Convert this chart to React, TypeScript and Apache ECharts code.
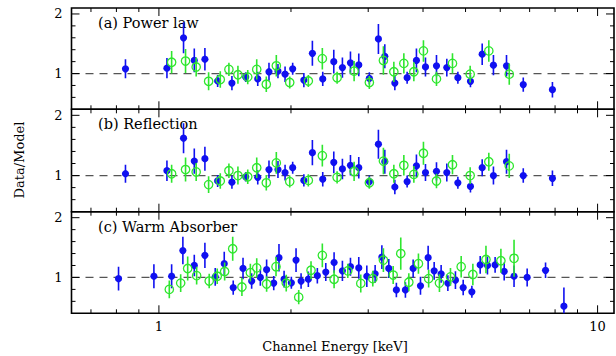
import React, { useEffect, useRef } from "react";
import * as echarts from "echarts";

// ---- Data (ratios) ----
const blueEnergyAB = [0.839, 1.043, 1.138, 1.204, 1.273, 1.361, 1.467, 1.577, 1.68, 1.782, 1.868, 1.939, 2.018, 2.14, 2.238, 2.363, 2.504, 2.62, 2.733, 2.855, 3.018, 3.165, 3.273, 3.45, 3.68, 3.864, 4.052, 4.293, 4.532, 4.803, 5.131, 5.457, 5.789, 6.2, 6.77, 7.89];
const blueRatioA = [1.08, 1.09, 1.6, 1.22, 1.24, 0.875, 0.84, 0.94, 0.91, 1.03, 1.04, 0.99, 1.08, 0.89, 1.34, 0.91, 1.2, 1.1, 1.18, 1.145, 0.92, 1.58, 1.29, 0.84, 0.93, 1.22, 1.11, 1.13, 1.1, 0.93, 0.87, 1.325, 1.14, 1.13, 0.815, 0.73];
const blueErrA = [0.16, 0.17, 0.26, 0.2, 0.19, 0.1, 0.12, 0.08, 0.12, 0.15, 0.12, 0.13, 0.1, 0.12, 0.21, 0.12, 0.2, 0.17, 0.19, 0.19, 0.1, 0.25, 0.2, 0.12, 0.1, 0.2, 0.16, 0.18, 0.15, 0.1, 0.1, 0.18, 0.17, 0.18, 0.12, 0.13];
const blueRatioB = [1.03, 1.08, 1.62, 1.24, 1.28, 0.91, 0.89, 0.98, 0.97, 1.1, 1.1, 1.05, 1.13, 0.92, 1.38, 0.94, 1.22, 1.11, 1.17, 1.13, 0.9, 1.52, 1.23, 0.81, 0.9, 1.16, 1.05, 1.07, 1.05, 0.88, 0.82, 1.13, 1.0, 1.23, 1.0, 0.955];
const blueErrB = [0.15, 0.17, 0.25, 0.21, 0.2, 0.1, 0.11, 0.08, 0.12, 0.15, 0.14, 0.13, 0.1, 0.1, 0.21, 0.12, 0.18, 0.17, 0.17, 0.18, 0.1, 0.24, 0.2, 0.12, 0.1, 0.19, 0.14, 0.15, 0.15, 0.1, 0.1, 0.14, 0.15, 0.2, 0.12, 0.13];

const greenEnergyAB = [1.069, 1.15, 1.216, 1.298, 1.38, 1.444, 1.514, 1.594, 1.671, 1.757, 1.852, 1.987, 2.191, 2.358, 2.548, 2.786, 3.018, 3.249, 3.432, 3.617, 3.812, 4.009, 4.293, 4.669, 5.123, 5.65, 6.29];
const greenRatioA = [1.19, 1.21, 1.11, 0.87, 0.9, 1.07, 0.98, 0.94, 1.07, 0.82, 1.13, 0.85, 0.875, 1.25, 0.93, 1.04, 0.85, 1.22, 1.03, 1.17, 1.03, 1.38, 0.91, 1.17, 0.99, 1.38, 0.99];
const greenErrA = [0.19, 0.2, 0.16, 0.15, 0.14, 0.11, 0.15, 0.12, 0.17, 0.13, 0.18, 0.1, 0.1, 0.18, 0.1, 0.17, 0.11, 0.24, 0.17, 0.17, 0.16, 0.18, 0.12, 0.17, 0.14, 0.18, 0.18];
const greenRatioB = [1.03, 1.1, 1.06, 0.85, 0.91, 1.08, 1.0, 0.98, 1.13, 0.88, 1.21, 0.9, 0.92, 1.33, 0.97, 1.07, 0.88, 1.24, 1.03, 1.17, 1.02, 1.37, 0.91, 1.18, 1.0, 1.23, 1.16];
const greenErrB = [0.15, 0.2, 0.15, 0.14, 0.13, 0.12, 0.15, 0.12, 0.17, 0.13, 0.18, 0.1, 0.1, 0.18, 0.1, 0.16, 0.1, 0.22, 0.15, 0.17, 0.14, 0.19, 0.12, 0.16, 0.14, 0.15, 0.2];

const blueEnergyC = [0.809, 0.974, 1.069, 1.134, 1.204, 1.273, 1.344, 1.409, 1.477, 1.555, 1.627, 1.703, 1.76, 1.827, 1.878, 1.929, 2.004, 2.054, 2.109, 2.191, 2.297, 2.401, 2.508, 2.62, 2.733, 2.855, 2.978, 3.111, 3.223, 3.342, 3.478, 3.647, 3.798, 3.947, 4.109, 4.241, 4.399, 4.557, 4.742, 4.939, 5.169, 5.4, 5.61, 5.84, 6.125, 6.45, 6.91, 7.61, 8.38];
const blueRatioC = [0.98, 1.02, 1.02, 1.45, 1.2, 1.37, 1.01, 1.23, 0.83, 1.15, 0.94, 1.0, 1.13, 0.905, 1.33, 0.97, 0.91, 1.29, 0.94, 0.97, 1.03, 1.09, 1.25, 1.11, 1.18, 1.16, 1.02, 1.06, 1.34, 1.15, 0.79, 0.79, 1.15, 0.86, 1.33, 1.11, 1.06, 0.905, 0.955, 0.83, 0.76, 1.21, 1.2, 1.21, 1.1, 1.02, 1.0, 1.12, 0.52];
const blueErrC = [0.2, 0.2, 0.2, 0.23, 0.18, 0.21, 0.15, 0.2, 0.12, 0.18, 0.13, 0.14, 0.17, 0.12, 0.23, 0.14, 0.1, 0.2, 0.13, 0.13, 0.13, 0.15, 0.17, 0.17, 0.15, 0.18, 0.18, 0.15, 0.2, 0.16, 0.12, 0.13, 0.15, 0.15, 0.2, 0.15, 0.15, 0.13, 0.15, 0.13, 0.1, 0.15, 0.15, 0.13, 0.15, 0.18, 0.15, 0.13, 0.31];

const greenEnergyC = [1.056, 1.121, 1.163, 1.219, 1.302, 1.358, 1.412, 1.473, 1.546, 1.616, 1.671, 1.76, 1.849, 1.951, 2.083, 2.222, 2.358, 2.508, 2.695, 2.885, 3.073, 3.249, 3.42, 3.559, 3.713, 3.905, 4.12, 4.36, 4.62, 4.887, 5.196, 5.566, 6.02, 6.45];
const greenRatioC = [0.8, 0.905, 1.15, 1.03, 0.94, 1.02, 1.1, 1.48, 0.84, 1.08, 1.16, 0.89, 1.18, 0.905, 0.67, 1.12, 1.37, 0.97, 1.11, 0.9, 0.98, 1.29, 1.04, 1.4, 0.92, 1.23, 0.98, 0.905, 1.01, 1.18, 1.05, 1.3, 1.28, 1.32];
const greenErrC = [0.15, 0.15, 0.2, 0.15, 0.12, 0.13, 0.15, 0.2, 0.15, 0.15, 0.16, 0.13, 0.16, 0.14, 0.12, 0.15, 0.2, 0.15, 0.12, 0.15, 0.13, 0.2, 0.15, 0.27, 0.15, 0.17, 0.15, 0.15, 0.15, 0.18, 0.18, 0.23, 0.2, 0.31];

const panelLabels = ["(a) Power law", "(b) Reflection", "(c) Warm Absorber"];
const xTicks = [0.7, 0.8, 0.9, 1, 2, 3, 4, 5, 6, 7, 8, 9, 10];
const yTicks = [0.6, 0.8, 1.0, 1.2, 1.4, 1.6, 1.8, 2.0];
const xTitle = "Channel Energy [keV]";
const yTitle = "Data/Model";

const XMIN = 0.632;
const XMAX = 10.9;
const YMIN = 0.4;
const YMAX = 2.1;

const BLUE = "#1010f0";
const GREEN = "#2ee62e";
const FONT = "DejaVu Serif";

const zip = (e: number[], r: number[], d: number[]) => e.map((v, i) => [v, r[i], d[i]]);

const panels = [
  { blue: zip(blueEnergyAB, blueRatioA, blueErrA), green: zip(greenEnergyAB, greenRatioA, greenErrA) },
  { blue: zip(blueEnergyAB, blueRatioB, blueErrB), green: zip(greenEnergyAB, greenRatioB, greenErrB) },
  { blue: zip(blueEnergyC, blueRatioC, blueErrC), green: zip(greenEnergyC, greenRatioC, greenErrC) },
];

const grids = [
  { left: 71.5, top: 8, width: 542.5, height: 101.3 },
  { left: 71.5, top: 109.3, width: 542.5, height: 102.4 },
  { left: 71.5, top: 211.7, width: 542.5, height: 101.6 },
];

const isMajorLog = (v: number) => Math.abs(Math.log10(v) - Math.round(Math.log10(v))) < 1e-6;

function errRender(color: string, open: boolean) {
  return (params: any, api: any) => {
    const e = api.value(0);
    const r = api.value(1);
    const d = api.value(2);
    const p = api.coord([e, r]);
    const t = api.coord([e, r + d]);
    const b = api.coord([e, r - d]);
    const children: any[] = [
      { type: "line", shape: { x1: p[0], y1: t[1], x2: p[0], y2: b[1] }, style: { stroke: color, lineWidth: 1.6 } },
    ];
    if (open) {
      children.push({ type: "circle", shape: { cx: p[0], cy: p[1], r: 4.2 }, style: { fill: "none", stroke: color, lineWidth: 1.3 } });
    } else {
      children.push({ type: "circle", shape: { cx: p[0], cy: p[1], r: 3.6 }, style: { fill: color } });
    }
    return { type: "group", children };
  };
}

export default function App() {
  const ref = useRef<HTMLDivElement>(null);
  useEffect(() => {
    if (!ref.current) return;
    const chart = echarts.init(ref.current, undefined, { renderer: "svg" });
    const xAxis: any[] = [];
    const yAxis: any[] = [];
    const series: any[] = [];
    grids.forEach((_, i) => {
      xAxis.push({
        gridIndex: i,
        type: "log",
        logBase: 10,
        min: XMIN,
        max: XMAX,
        axisLine: { show: false },
        axisTick: { show: false },
        splitLine: { show: false },
        axisLabel: {
          show: i === 2,
          margin: 7,
          color: "#000",
          fontFamily: FONT,
          fontSize: 13,
          showMinLabel: false,
          showMaxLabel: false,
          formatter: (v: number) => (isMajorLog(v) ? String(Math.round(v)) : ""),
        },
      });
      yAxis.push({
        gridIndex: i,
        type: "value",
        min: YMIN,
        max: YMAX,
        interval: 0.2,
        axisLine: { show: false },
        axisTick: { show: false },
        splitLine: { show: false },
        axisLabel: {
          margin: 9,
          color: "#000",
          fontFamily: FONT,
          fontSize: 13,
          formatter: (v: number) => (Math.abs(v - 1) < 1e-6 ? "1" : Math.abs(v - 2) < 1e-6 ? "2" : ""),
        },
      });
      // reference line at ratio 1
      series.push({
        type: "line",
        xAxisIndex: i,
        yAxisIndex: i,
        data: [[XMIN, 1], [XMAX, 1]],
        symbol: "none",
        silent: true,
        z: 1,
        lineStyle: { color: "#555", width: 1.3, type: [8, 6] },
      });
      // x ticks (top and bottom of each panel)
      series.push({
        type: "custom",
        xAxisIndex: i,
        yAxisIndex: i,
        silent: true,
        z: 5,
        data: xTicks.map((v) => [v, 1]),
        renderItem: (params: any, api: any) => {
          const cs = params.coordSys;
          const v = api.value(0);
          const px = api.coord([v, 1])[0];
          const L = isMajorLog(v) ? 8 : 4;
          return {
            type: "group",
            children: [
              { type: "line", shape: { x1: px, y1: cs.y, x2: px, y2: cs.y + L }, style: { stroke: "#000", lineWidth: 1 } },
              { type: "line", shape: { x1: px, y1: cs.y + cs.height - L, x2: px, y2: cs.y + cs.height }, style: { stroke: "#000", lineWidth: 1 } },
            ],
          };
        },
      });
      // y ticks (left and right of each panel)
      series.push({
        type: "custom",
        xAxisIndex: i,
        yAxisIndex: i,
        silent: true,
        z: 5,
        data: yTicks.map((v) => [1, v]),
        renderItem: (params: any, api: any) => {
          const cs = params.coordSys;
          const v = api.value(1);
          const py = api.coord([1, v])[1];
          const major = Math.abs(v - Math.round(v)) < 1e-6;
          const L = major ? 8 : 4;
          return {
            type: "group",
            children: [
              { type: "line", shape: { x1: cs.x, y1: py, x2: cs.x + L, y2: py }, style: { stroke: "#000", lineWidth: 1 } },
              { type: "line", shape: { x1: cs.x + cs.width - L, y1: py, x2: cs.x + cs.width, y2: py }, style: { stroke: "#000", lineWidth: 1 } },
            ],
          };
        },
      });
      series.push({
        type: "custom",
        xAxisIndex: i,
        yAxisIndex: i,
        clip: true,
        z: 3,
        data: panels[i].blue,
        renderItem: errRender(BLUE, false),
      });
      series.push({
        type: "custom",
        xAxisIndex: i,
        yAxisIndex: i,
        clip: true,
        z: 4,
        data: panels[i].green,
        renderItem: errRender(GREEN, true),
      });
    });

    const graphic: any[] = panelLabels.map((t, i) => ({
      type: "text",
      left: 98,
      top: grids[i].top + 7.5,
      style: { text: t, fill: "#000", font: `14.5px "${FONT}"` },
    }));
    graphic.push({
      type: "text",
      x: 335,
      y: 346,
      style: { text: xTitle, fill: "#000", font: `13px "${FONT}"`, align: "center", verticalAlign: "middle", textAlign: "center", textVerticalAlign: "middle" },
    });
    graphic.push({
      type: "text",
      x: 19,
      y: 160,
      rotation: Math.PI / 2,
      style: { text: yTitle, fill: "#000", font: `13px "${FONT}"`, align: "center", verticalAlign: "middle", textAlign: "center", textVerticalAlign: "middle" },
    });

    chart.setOption({
      animation: false,
      backgroundColor: "#fff",
      grid: grids.map((g) => ({ ...g, show: true, borderColor: "#000", borderWidth: 1.6, backgroundColor: "transparent" })),
      xAxis,
      yAxis,
      series,
      graphic,
    });
    return () => chart.dispose();
  }, []);
  return <div ref={ref} style={{ position: "fixed", left: 0, top: 0, width: 616, height: 356 }} />;
}
